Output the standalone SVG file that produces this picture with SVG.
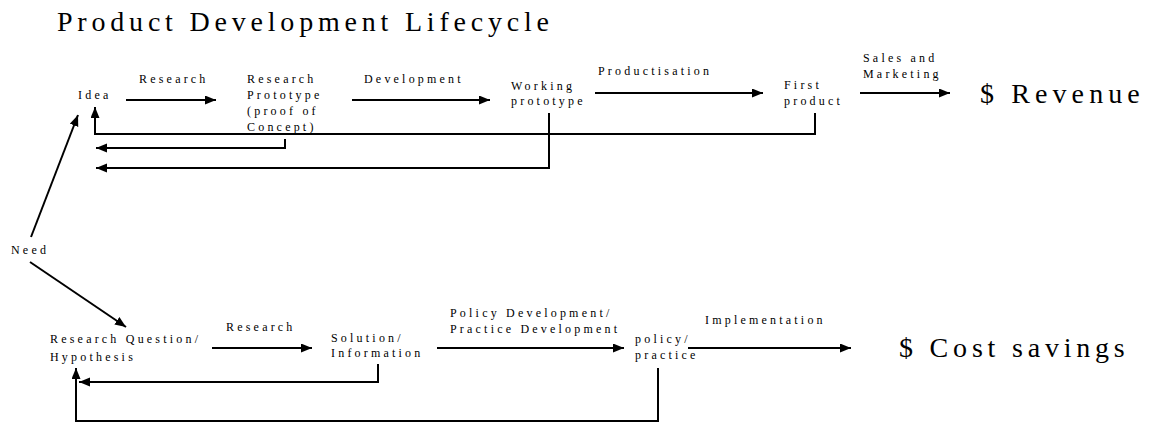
<svg xmlns="http://www.w3.org/2000/svg" width="1152" height="424" viewBox="0 0 1152 424">
<defs>
<marker id="ah" markerUnits="userSpaceOnUse" markerWidth="12" markerHeight="10" refX="11" refY="4.5" orient="auto">
<path d="M0,0 L11,4.5 L0,9 z" fill="#000"/>
</marker>
<style>
text{font-family:"Liberation Serif","Times New Roman",serif;fill:#000}
.s{font-size:12px;letter-spacing:3.2px}
.b{font-size:28px;letter-spacing:4.8px}
.c line,.c path{stroke:#000;stroke-width:2;fill:none}
.a{marker-end:url(#ah)}
</style>
</defs>
<rect width="1152" height="424" fill="#fff"/>
<text id="title" class="b" x="57" y="31">Product Development Lifecycle</text>
<g id="need"><text class="s" x="11" y="254">Need</text></g>
<g id="idea"><text class="s" x="78" y="99">Idea</text></g>
<g id="research-prototype"><text class="s" x="247" y="83">Research</text><text class="s" x="247" y="99">Prototype</text><text class="s" x="247" y="115">(proof of</text><text class="s" x="247" y="131">Concept)</text></g>
<g id="working-prototype"><text class="s" x="511" y="90">Working</text><text class="s" x="511" y="105">prototype</text></g>
<g id="first-product"><text class="s" x="784" y="89">First</text><text class="s" x="784" y="105">product</text></g>
<g id="revenue"><text class="b" x="980" y="103" style="letter-spacing:5.1px">$ Revenue</text></g>
<g id="research-question"><text class="s" x="50" y="343">Research Question/</text><text class="s" x="50" y="361">Hypothesis</text></g>
<g id="solution"><text class="s" x="331" y="342">Solution/</text><text class="s" x="331" y="357">Information</text></g>
<g id="policy"><text class="s" x="635" y="343">policy/</text><text class="s" x="635" y="359">practice</text></g>
<g id="cost-savings"><text class="b" x="899" y="357">$ Cost savings</text></g>
<g id="connectors" class="c">
<line class="a" x1="126" y1="100" x2="216" y2="100"/>
<line class="a" x1="352" y1="100" x2="490" y2="100"/>
<line class="a" x1="595" y1="93" x2="763" y2="93"/>
<line class="a" x1="860" y1="93" x2="950" y2="93"/>
<path class="a" d="M815,113 V134 H95 V107"/>
<path class="a" d="M285,139 V148 H96"/>
<path class="a" d="M549,113 V168 H96"/>
<line class="a" x1="31" y1="237" x2="78" y2="115"/>
<line class="a" x1="30" y1="262" x2="126" y2="327"/>
<line class="a" x1="212" y1="348" x2="312" y2="348"/>
<line class="a" x1="437" y1="348" x2="624" y2="348"/>
<line class="a" x1="688" y1="348" x2="851" y2="348"/>
<path class="a" d="M378,364 V382 H79"/>
<path class="a" d="M658,368 V421 H76 V368"/>
<text class="s" x="139" y="83">Research</text>
<text class="s" x="364" y="83">Development</text>
<text class="s" x="598" y="75">Productisation</text>
<text class="s" x="863" y="62">Sales and</text>
<text class="s" x="863" y="78">Marketing</text>
<text class="s" x="226" y="331">Research</text>
<text class="s" x="450" y="317">Policy Development/</text>
<text class="s" x="450" y="333">Practice Development</text>
<text class="s" x="705" y="324">Implementation</text>
</g>
</svg>
